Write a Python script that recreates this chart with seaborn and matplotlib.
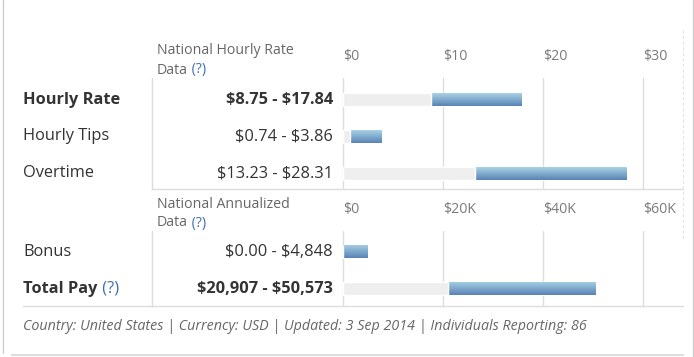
import numpy as np
import pandas as pd
import matplotlib
matplotlib.use("Agg")
import matplotlib.pyplot as plt
import seaborn as sns
from matplotlib.colors import LinearSegmentedColormap
from matplotlib.lines import Line2D
import matplotlib.transforms as mtransforms

# ---------------- data ----------------
hourly_cats = ["Hourly Rate", "Hourly Tips", "Overtime"]
hourly_low = [8.75, 0.74, 13.23]
hourly_high = [17.84, 3.86, 28.31]
hourly_ranges = ["$8.75 - $17.84", "$0.74 - $3.86", "$13.23 - $28.31"]
hourly_bold = [True, False, False]
hourly_ticks = [0, 10, 20, 30]
hourly_ticklabels = ["$0", "$10", "$20", "$30"]

annual_cats = ["Bonus", "Total Pay"]
annual_low = [0, 20907]
annual_high = [4848, 50573]
annual_ranges = ["$0.00 - $4,848", "$20,907 - $50,573"]
annual_bold = [False, True]
annual_ticks = [0, 20000, 40000, 60000]
annual_ticklabels = ["$0", "$20K", "$40K", "$60K"]

footer = ("Country: United States | Currency: USD | Updated: 3 Sep 2014 | "
          "Individuals Reporting: 86")

# ---------------- style ----------------
W, H = 694, 357
sns.set_style("white")
plt.rcParams["font.family"] = ["Open Sans", "DejaVu Sans"]
plt.rcParams["text.parse_math"] = False

TXT = "#333333"
HEAD = "#666666"
TICK = "#7a7a7a"
LINK = "#3d6eb0"
GRID = "#dddddd"
BG_BAR = "#eeeeee"
ROWFS = 11.8
HEADFS = 10.2
grad_cmap = LinearSegmentedColormap.from_list("bar", ["#a8d2e5", "#5a83b6"])

fig = plt.figure(figsize=(W / 100, H / 100), dpi=100)
fig.patch.set_facecolor("white")


def fx(px):
    return px / W


def fy(py):
    return 1 - py / H


def make_axes(top_px, bot_px):
    return fig.add_axes([fx(152), fy(bot_px), fx(683) - fx(152),
                         (bot_px - top_px) / H])


def draw_section(ax, cats, low, high, ticks, ticklabels, xlim, ylim, bh):
    df = pd.DataFrame({"cat": cats, "low": low, "high": high})
    # full grey background bar (0 -> high)
    sns.barplot(data=df, x="high", y="cat", orient="h", color=BG_BAR,
                width=bh, ax=ax, saturation=1, zorder=2)
    n0 = len(ax.patches)
    # blue bar (0 -> high), filled with vertical gradient
    sns.barplot(data=df, x="high", y="cat", orient="h", color="#7aa5cc",
                width=bh, ax=ax, saturation=1, zorder=3)
    blue = ax.patches[n0:]
    grad = np.linspace(0, 1, 64).reshape(-1, 1)
    for p in blue:
        p.set_facecolor("none")
        p.set_edgecolor("none")
        x0, y0 = p.get_x(), p.get_y()
        w, h = p.get_width(), p.get_height()
        if w <= 0:
            continue
        im = ax.imshow(grad, cmap=grad_cmap, aspect="auto",
                       extent=(x0, x0 + w, y0 + h, y0), zorder=3,
                       interpolation="bilinear")
        im.set_clip_path(p)
    # grey overlay (0 -> low) hides the blue part below the low value
    n1 = len(ax.patches)
    sns.barplot(data=df, x="low", y="cat", orient="h", color=BG_BAR,
                width=bh, ax=ax, saturation=1, zorder=4)
    for p in ax.patches[n1:]:
        p.set_zorder(4)

    ax.set_xlim(*xlim)
    ax.set_ylim(*ylim)
    ax.set_xlabel("")
    ax.set_ylabel("")
    ax.set_yticks([])
    ax.xaxis.tick_top()
    ax.set_xticks(ticks)
    ax.set_xticklabels(ticklabels, ha="left", color=TICK, fontsize=HEADFS)
    ax.tick_params(axis="x", length=0, pad=10)
    for t in ticks:
        ax.axvline(t, color=GRID, lw=1, zorder=0)
    for s in ["top", "right"]:
        ax.spines[s].set_visible(False)
    for s in ["left", "bottom"]:
        ax.spines[s].set_color(GRID)
        ax.spines[s].set_linewidth(1)
    ax.set_facecolor("none")


# top section (hourly)
ax1 = make_axes(78, 189)
draw_section(ax1, hourly_cats, hourly_low, hourly_high, hourly_ticks,
             hourly_ticklabels, (-19.1, 34.0), (2.43, -0.59), 0.35)

# bottom section (annualized)
ax2 = make_axes(231, 305.5)
draw_section(ax2, annual_cats, annual_low, annual_high, annual_ticks,
             annual_ticklabels, (-38200, 68000), (1.46, -0.56), 0.37)


# ---------------- texts ----------------
def add_after(t, s, fs, color):
    a = plt.Annotation(s, xy=(1, 0.5), xycoords=t, va="center", ha="left",
                       fontsize=fs, color=color)
    a.set_figure(fig)
    fig.texts.append(a)


def row_texts(ax, cats, ranges, bolds, extra_q=None):
    tr = mtransforms.blended_transform_factory(fig.transFigure, ax.transData)
    for i, (c, r, b) in enumerate(zip(cats, ranges, bolds)):
        wt = "bold" if b else "normal"
        t = fig.text(fx(23), i, c, transform=tr, ha="left", va="center",
                     fontsize=ROWFS, fontweight=wt, color=TXT)
        if extra_q is not None and c == extra_q:
            add_after(t, " (?)", ROWFS, LINK)
        fig.text(fx(333), i, r, transform=tr, ha="right", va="center",
                 fontsize=ROWFS, fontweight=wt, color=TXT)


row_texts(ax1, hourly_cats, hourly_ranges, hourly_bold)
row_texts(ax2, annual_cats, annual_ranges, annual_bold, extra_q="Total Pay")


def header(line1, y1, y2):
    fig.text(fx(157), fy(y1), line1, ha="left", va="center", fontsize=HEADFS,
             color=HEAD)
    t = fig.text(fx(157), fy(y2), "Data", ha="left", va="center",
                 fontsize=HEADFS, color=HEAD)
    add_after(t, " (?)", HEADFS, LINK)


header("National Hourly Rate", 51, 70)
header("National Annualized", 204, 223)

fig.text(fx(23), fy(326), footer, ha="left", va="center", fontsize=10.3,
         style="italic", color="#666666")

# ---------------- frame lines ----------------
def fline(x0, y0, x1, y1, **kw):
    fig.add_artist(Line2D([fx(x0), fx(x1)], [fy(y0), fy(y1)],
                          transform=fig.transFigure, **kw))


fline(23, 305.5, 152, 305.5, color=GRID, lw=1)
fline(2.5, 0, 2.5, 353, color="#d0d0d0", lw=1)
fline(693, 0, 693, 357, color="#d0d0d0", lw=1)
fline(12, 355, 683, 355, color="#dddddd", lw=1.5)
fline(683, 30, 683, 240, color="#e4e4e4", lw=0.8, ls=(0, (3, 2)))

fig.savefig("out.png", dpi=100, facecolor="white")
